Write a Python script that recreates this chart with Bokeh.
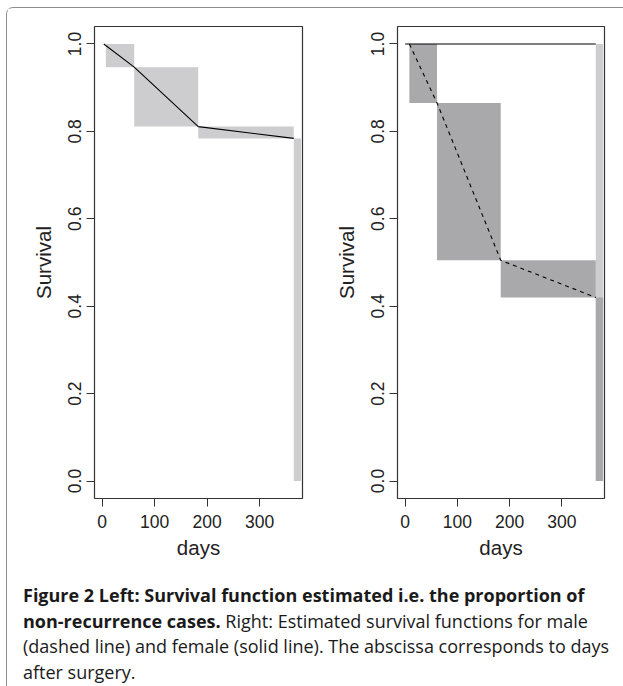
from bokeh.plotting import figure
from bokeh.layouts import row, column
from bokeh.models import Div, Range1d, FixedTicker, PrintfTickFormatter
from bokeh.embed import file_html
from bokeh.resources import INLINE

# ---- data ----
x_ticks = [0, 100, 200, 300]
y_ticks = [0.0, 0.2, 0.4, 0.6, 0.8, 1.0]

# left panel: overall survival
all_line_t = [3, 61, 183, 365]
all_line_s = [1.0, 0.947, 0.811, 0.784]
all_box_x0 = [7, 61, 183]
all_box_x1 = [61, 183, 365]
all_box_top = [1.0, 0.947, 0.811]
all_box_bot = [0.947, 0.811, 0.784]
all_end_x = [365, 379]
all_end_top = [0.784]

# right panel: male (dashed) and female (solid)
male_line_t = [8, 61, 183, 365]
male_line_s = [1.0, 0.865, 0.505, 0.42]
male_box_x0 = [8, 61, 183]
male_box_x1 = [61, 183, 365]
male_box_top = [1.0, 0.865, 0.505]
male_box_bot = [0.865, 0.505, 0.42]
male_end_top = [0.42]
fem_line_t = [0, 365]
fem_line_s = [1.0, 1.0]
fem_end_top = [1.0]
end_x = [365, 379]

caption_lines = [
    "<b>Figure 2 Left: Survival function estimated i.e. the proportion of</b>",
    "<b>non-recurrence cases.</b> Right: Estimated survival functions for male",
    "(dashed line) and female (solid line). The abscissa corresponds to days",
    "after surgery.",
]

LIGHT = "#cdcdcf"
DARK = "#a9a9ac"
FRAME = "#333333"


def make_panel(width, mb_left, mb_right):
    p = figure(width=width, height=557, x_range=Range1d(-14.7, 381.7),
               y_range=Range1d(-0.04, 1.04), output_backend="svg",
               toolbar_location=None, min_border_left=mb_left,
               min_border_right=mb_right, min_border_top=18,
               min_border_bottom=67)
    p.grid.visible = False
    p.outline_line_color = FRAME
    p.outline_line_width = 1.2
    p.background_fill_color = "white"
    p.border_fill_color = "white"
    for ax in (p.xaxis, p.yaxis):
        ax.axis_line_color = None
        ax.major_tick_in = 0
        ax.major_tick_out = 8
        ax.major_tick_line_color = FRAME
        ax.minor_tick_line_color = None
        ax.major_label_text_font = "Liberation Sans"
        ax.major_label_text_font_size = "17.5px"
        ax.major_label_text_color = "#222222"
        ax.axis_label_text_font = "Liberation Sans"
        ax.axis_label_text_font_size = "20.5px"
        ax.axis_label_text_font_style = "normal"
        ax.axis_label_text_color = "#222222"
    p.xaxis.ticker = FixedTicker(ticks=x_ticks)
    p.yaxis.ticker = FixedTicker(ticks=y_ticks)
    p.xaxis.formatter = PrintfTickFormatter(format="%d")
    p.yaxis.formatter = PrintfTickFormatter(format="%.1f")
    p.yaxis.major_label_orientation = "vertical"
    p.xaxis.axis_label = "days"
    p.yaxis.axis_label = "Survival"
    p.yaxis.major_label_standoff = 5
    p.yaxis.axis_label_standoff = 11
    p.xaxis.major_label_standoff = 8
    p.xaxis.axis_label_standoff = 5
    return p


p1 = make_panel(303, 87, 8)
p1.quad(left=all_box_x0, right=all_box_x1, top=all_box_top, bottom=all_box_bot,
        fill_color=LIGHT, line_color=None)
p1.quad(left=[all_end_x[0]], right=[all_end_x[1]], top=all_end_top, bottom=[0.0],
        fill_color=LIGHT, line_color=None)
p1.line(all_line_t, all_line_s, line_color="black", line_width=1.1)

p2 = make_panel(304, 87, 10)
p2.quad(left=[end_x[0]], right=[end_x[1]], top=fem_end_top, bottom=[0.0],
        fill_color=LIGHT, line_color=None)
p2.quad(left=male_box_x0, right=male_box_x1, top=male_box_top, bottom=male_box_bot,
        fill_color=DARK, line_color=None)
p2.quad(left=[end_x[0]], right=[end_x[1]], top=male_end_top, bottom=[0.0],
        fill_color=DARK, line_color=None)
p2.line(fem_line_t, fem_line_s, line_color="black", line_width=1.1)
p2.line(male_line_t, male_line_s, line_color="black", line_width=1.1,
        line_dash="4 4")

caption = Div(
    text="<br>".join(caption_lines),
    width=607, height=119,
    styles={"font-family": "Open Sans", "font-size": "18px",
            "line-height": "25.6px", "color": "#1a1a1a",
            "padding-left": "11px", "padding-top": "13px",
            "white-space": "nowrap", "box-sizing": "border-box"})

layout = column(row(p1, p2), caption, margin=(7, 0, 0, 6),
                styles={"border-top": "1px solid #8c8c8c",
                        "border-left": "1px solid #8c8c8c",
                        "border-top-left-radius": "7px"})

open("out.html", "w").write(file_html(layout, INLINE))
